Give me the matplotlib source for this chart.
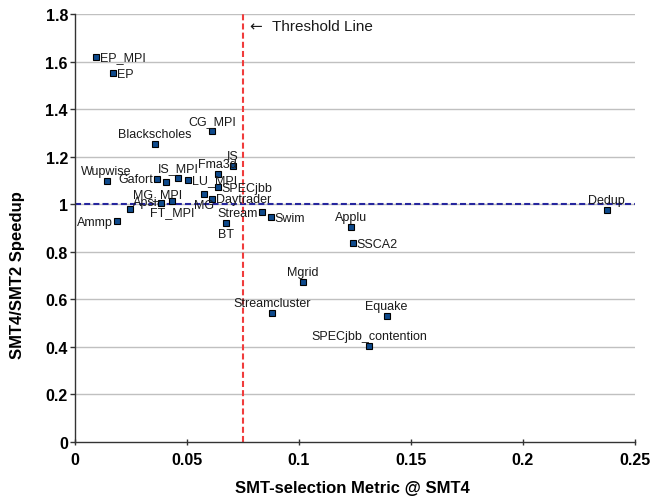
import matplotlib
matplotlib.use("Agg")
import matplotlib.pyplot as plt

plt.rcParams['font.family'] = ['Liberation Sans', 'DejaVu Sans']

# ---- data ----
names = ["EP_MPI", "EP", "CG_MPI", "Blackscholes", "IS", "Fma3d", "Wupwise",
         "Gafort", "", "IS_MPI", "LU_MPI", "SPECjbb", "MG", "Daytrader",
         "MG_MPI", "FT_MPI", "Apsi", "Ammp", "BT", "Stream", "Swim",
         "Applu", "SSCA2", "Dedup", "Mgrid", "Streamcluster", "Equake",
         "SPECjbb_contention"]
metric = [0.0094, 0.0171, 0.0612, 0.0358, 0.0704, 0.0637, 0.0141,
          0.0365, 0.0405, 0.0460, 0.0503, 0.0637, 0.0574, 0.0613,
          0.0382, 0.0432, 0.0247, 0.0189, 0.0674, 0.0833, 0.0874,
          0.1231, 0.1240, 0.2374, 0.1016, 0.0878, 0.1391,
          0.1314]
speedup = [1.620, 1.550, 1.309, 1.253, 1.160, 1.127, 1.099,
           1.107, 1.092, 1.110, 1.102, 1.071, 1.041, 1.023,
           1.006, 1.015, 0.978, 0.928, 0.920, 0.966, 0.946,
           0.903, 0.836, 0.977, 0.672, 0.542, 0.529,
           0.405]
threshold = 0.075
baseline = 1.0
xticks = [0, 0.05, 0.1, 0.15, 0.2, 0.25]
xticklabels = ["0", "0.05", "0.1", "0.15", "0.2", "0.25"]
yticks = [0, 0.2, 0.4, 0.6, 0.8, 1.0, 1.2, 1.4, 1.6, 1.8]
yticklabels = ["0", "0.2", "0.4", "0.6", "0.8", "1", "1.2", "1.4", "1.6", "1.8"]

# label placement (pixel offsets, style only)
place = {
    "EP_MPI": "right", "EP": "right", "CG_MPI": "above", "Blackscholes": "above",
    "IS": "above", "Fma3d": "above", "Wupwise": "above", "Gafort": "left",
    "IS_MPI": "above", "LU_MPI": "right", "SPECjbb": "right", "MG": "below",
    "Daytrader": "right", "MG_MPI": "mgmpi", "FT_MPI": "below", "Apsi": "apsi",
    "Ammp": "left", "BT": "below", "Stream": "left", "Swim": "right",
    "Applu": "above", "SSCA2": "right", "Dedup": "above", "Mgrid": "above",
    "Streamcluster": "above", "Equake": "above", "SPECjbb_contention": "above",
}
offsets = {
    "above": (0, 10, "center"),
    "below": (0, -11, "center"),
    "right": (4, -0.5, "left"),
    "left": (-4, -0.5, "right"),
    "mgmpi": (-3, 9, "center"),
    "apsi": (3, 7, "left"),
}

fig = plt.figure(figsize=(6.65, 5.02), dpi=100)
ax = fig.add_axes([75 / 665, 1 - 443 / 502, 560 / 665, 428 / 502])

ax.set_xlim(0, 0.25)
ax.set_ylim(0, 1.8)

for yv in yticks[1:]:
    ax.axhline(yv, color="#C0C0C0", lw=1.0, zorder=0)

ax.axhline(baseline, color="#26269E", lw=1.5, dashes=(2.9, 1.5), zorder=1)
ax.axvline(threshold, color="#F03C3C", lw=1.5, dashes=(2.9, 1.5), zorder=1)

ax.plot(metric, speedup, linestyle="none", marker="s", markersize=4.8,
        markerfacecolor="#0E4A8C", markeredgecolor="black",
        markeredgewidth=0.8, zorder=3)

for n, xv, yv in zip(names, metric, speedup):
    if not n:
        continue
    dx, dy, ha = offsets[place[n]]
    ax.annotate(n, (xv, yv), xytext=(dx, dy), textcoords="offset pixels",
                ha=ha, va="center", fontsize=9, color="#1A1A1A", zorder=4)

ax.text(0.0778, 1.748, "\u2190", fontsize=11, ha="left", va="center",
        color="#1A1A1A", family=["DejaVu Sans"])
ax.text(0.0878, 1.748, "Threshold Line", fontsize=11, ha="left",
        va="center", color="#1A1A1A")

ax.set_xticks(xticks)
ax.set_xticklabels(xticklabels)
ax.set_yticks(yticks)
ax.set_yticklabels(yticklabels)
for lab in ax.get_xticklabels() + ax.get_yticklabels():
    lab.set_fontweight("bold")
    lab.set_fontsize(11.5)

ax.tick_params(axis="x", direction="inout", length=5, width=1, pad=5,
               color="#333333")
ax.tick_params(axis="y", direction="out", length=3.6, width=1, pad=1.5,
               color="#333333")

for s in ["top", "right"]:
    ax.spines[s].set_visible(False)
for s in ["left", "bottom"]:
    ax.spines[s].set_color("#333333")
    ax.spines[s].set_linewidth(1.0)

ax.set_xlabel("SMT-selection Metric @ SMT4", fontsize=12, fontweight="bold")
ax.set_ylabel("SMT4/SMT2 Speedup", fontsize=12, fontweight="bold")
ax.xaxis.set_label_coords((352 - 75) / 560, (443 - 481) / 428)
ax.yaxis.set_label_coords((25 - 75) / 560, (443 - 275) / 428)

fig.savefig("out.png", dpi=100)
